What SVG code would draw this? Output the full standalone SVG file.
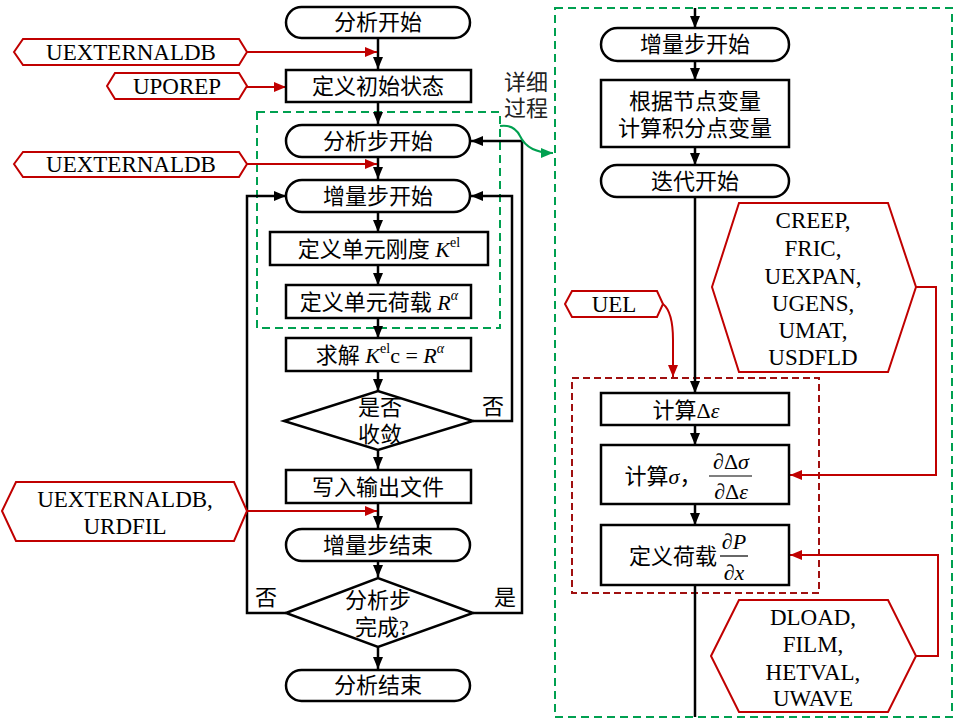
<svg xmlns="http://www.w3.org/2000/svg" width="955" height="725" viewBox="0 0 955 725">
<defs>
<marker id="ab" viewBox="0 0 12 10" refX="12" refY="5" markerWidth="12" markerHeight="10" markerUnits="userSpaceOnUse" orient="auto"><path d="M0,0 L12,5 L0,10 Z" fill="#000"/></marker>
<marker id="ar" viewBox="0 0 12 10" refX="12" refY="5" markerWidth="12" markerHeight="10" markerUnits="userSpaceOnUse" orient="auto"><path d="M0,0 L12,5 L0,10 Z" fill="#C00000"/></marker>
<marker id="ag" viewBox="0 0 12 10" refX="12" refY="5" markerWidth="12" markerHeight="10" markerUnits="userSpaceOnUse" orient="auto"><path d="M0,0 L12,5 L0,10 Z" fill="#00A050"/></marker>
</defs>
<style>
text{font-family:"Liberation Serif","Noto Sans CJK SC",serif;font-size:22px;fill:#000;dominant-baseline:central;text-anchor:middle}
.lat{font-size:23px}
.box{fill:#fff;stroke:#000;stroke-width:2.5}
.hex{fill:#fff;stroke:#C00000;stroke-width:2}
.c{fill:none;stroke:#000;stroke-width:2.5}
.r{fill:none;stroke:#C00000;stroke-width:2}
.gd{fill:none;stroke:#00A050;stroke-width:2;stroke-dasharray:8 5}
.rd{fill:none;stroke:#A01010;stroke-width:2;stroke-dasharray:7 4}
.i{font-style:italic}
.sup{font-size:14px}
</style>
<rect x="0" y="0" width="955" height="725" fill="#fff"/>
<g id="frames">
<rect class="gd" x="257" y="112" width="243" height="216"/>
<rect class="gd" x="555" y="8" width="397" height="709"/>
<rect class="rd" x="572" y="378" width="247" height="215"/>
</g>
<g id="connectors">
<line class="c" x1="378" y1="38" x2="378" y2="69" marker-end="url(#ab)"/>
<line class="c" x1="378" y1="102" x2="378" y2="124" marker-end="url(#ab)"/>
<line class="c" x1="378" y1="157" x2="378" y2="179" marker-end="url(#ab)"/>
<line class="c" x1="378" y1="212" x2="378" y2="232" marker-end="url(#ab)"/>
<line class="c" x1="378" y1="265" x2="378" y2="285" marker-end="url(#ab)"/>
<line class="c" x1="378" y1="318" x2="378" y2="338" marker-end="url(#ab)"/>
<line class="c" x1="378" y1="371" x2="378" y2="391" marker-end="url(#ab)"/>
<line class="c" x1="378" y1="450" x2="378" y2="469" marker-end="url(#ab)"/>
<line class="c" x1="378" y1="503" x2="378" y2="528" marker-end="url(#ab)"/>
<line class="c" x1="378" y1="561" x2="378" y2="577" marker-end="url(#ab)"/>
<line class="c" x1="378" y1="647" x2="378" y2="669" marker-end="url(#ab)"/>
<polyline class="c" points="473,421 512,421 512,196 471,196" marker-end="url(#ab)"/>
<polyline class="c" points="473,613 522,613 522,141 471,141" marker-end="url(#ab)"/>
<polyline class="c" points="286,613 247,613 247,196 286,196" marker-end="url(#ab)"/>
<line class="r" x1="247" y1="52" x2="377" y2="52" marker-end="url(#ar)"/>
<line class="r" x1="247" y1="87" x2="286" y2="87" marker-end="url(#ar)"/>
<line class="r" x1="247" y1="164" x2="377" y2="164" marker-end="url(#ar)"/>
<line class="r" x1="247" y1="511" x2="377" y2="511" marker-end="url(#ar)"/>
<path d="M500,126 Q514,124 520,136 Q528,153 553,153" fill="none" stroke="#00A050" stroke-width="2" marker-end="url(#ag)"/>
<line class="c" x1="695" y1="8" x2="695" y2="28" marker-end="url(#ab)"/>
<line class="c" x1="695" y1="61" x2="695" y2="80" marker-end="url(#ab)"/>
<line class="c" x1="695" y1="147" x2="695" y2="165" marker-end="url(#ab)"/>
<line class="c" x1="695" y1="197" x2="695" y2="393" marker-end="url(#ab)"/>
<line class="c" x1="695" y1="425" x2="695" y2="445" marker-end="url(#ab)"/>
<line class="c" x1="695" y1="504" x2="695" y2="525" marker-end="url(#ab)"/>
<line class="c" x1="695" y1="585" x2="695" y2="717"/>
<polyline class="r" points="916,287 936,287 936,475 790,475" marker-end="url(#ar)"/>
<polyline class="r" points="916,656 938,656 938,555 790,555" marker-end="url(#ar)"/>
<path class="r" d="M663,304 Q673,312 673,340 L673,377" marker-end="url(#ar)"/>
</g>
<g id="n_start"><rect class="box" x="286" y="7" width="184" height="31" rx="15.5"/><text x="378" y="22.5">分析开始</text></g>
<g id="n_uext1"><polygon class="hex" points="14,52 23,39 239,39 247,52 239,65 23,65"/><text class="lat" x="131" y="52">UEXTERNALDB</text></g>
<g id="n_init"><rect class="box" x="286" y="70" width="185" height="32"/><text x="378" y="86">定义初始状态</text></g>
<g id="n_uporep"><polygon class="hex" points="107,86 115,73 239,73 247,86 239,99 115,99"/><text class="lat" x="177" y="86">UPOREP</text></g>
<g id="n_detail"><text x="526" y="82" style="fill:#222">详细</text><text x="526" y="108" style="fill:#222">过程</text></g>
<g id="n_stepstart"><rect class="box" x="286" y="125" width="184" height="32" rx="16"/><text x="378" y="141">分析步开始</text></g>
<g id="n_uext2"><polygon class="hex" points="14,164 23,152 239,152 247,164 239,177 23,177"/><text class="lat" x="131" y="164">UEXTERNALDB</text></g>
<g id="n_incstart"><rect class="box" x="286" y="180" width="184" height="32" rx="16"/><text x="378" y="196">增量步开始</text></g>
<g id="n_kel"><rect class="box" x="270" y="232" width="218" height="33"/><text x="379" y="249">定义单元刚度 <tspan class="i">K</tspan><tspan class="sup" dy="-7">el</tspan></text></g>
<g id="n_ra"><rect class="box" x="286" y="285" width="185" height="33"/><text x="379" y="302">定义单元荷载 <tspan class="i">R</tspan><tspan class="sup i" dy="-7">α</tspan></text></g>
<g id="n_solve"><rect class="box" x="286" y="338" width="185" height="33"/><text x="380" y="355">求解 <tspan class="i">K</tspan><tspan class="sup" dy="-7">el</tspan><tspan dy="7">c =  </tspan><tspan class="i">R</tspan><tspan class="sup i" dy="-7">α</tspan></text></g>
<g id="n_conv"><polygon class="box" points="284,421 378,391 473,421 378,450"/><text x="380" y="407">是否</text><text x="380" y="434">收敛</text><text x="493" y="406">否</text></g>
<g id="n_write"><rect class="box" x="286" y="470" width="185" height="33"/><text x="378" y="487">写入输出文件</text></g>
<g id="n_urdfil"><polygon class="hex" points="2,511 16,482 234,482 247,511 234,541 16,541"/><text class="lat" x="125" y="499">UEXTERNALDB,</text><text class="lat" x="125" y="526">URDFIL</text></g>
<g id="n_incend"><rect class="box" x="286" y="529" width="184" height="32" rx="16"/><text x="378" y="545">增量步结束</text></g>
<g id="n_stepdone"><polygon class="box" points="286,613 378,578 473,613 378,647"/><text x="378" y="600">分析步</text><text x="382" y="627">完成?</text><text x="266" y="597">否</text><text x="505" y="597">是</text></g>
<g id="n_end"><rect class="box" x="286" y="670" width="184" height="31" rx="15.5"/><text x="378" y="685.5">分析结束</text></g>
<g id="r_incstart"><rect class="box" x="601" y="28" width="188" height="33" rx="16.5"/><text x="695" y="44.5">增量步开始</text></g>
<g id="r_var"><rect class="box" x="601" y="80" width="188" height="67"/><text x="695" y="101">根据节点变量</text><text x="695" y="128">计算积分点变量</text></g>
<g id="r_iter"><rect class="box" x="601" y="165" width="188" height="32" rx="16"/><text x="695" y="181">迭代开始</text></g>
<g id="r_creep"><polygon class="hex" points="712,287 739,203 888,203 916,287 888,372 739,372"/><text class="lat" x="813" y="220">CREEP,</text><text class="lat" x="813" y="248">FRIC,</text><text class="lat" x="813" y="276">UEXPAN,</text><text class="lat" x="813" y="303">UGENS,</text><text class="lat" x="813" y="330">UMAT,</text><text class="lat" x="813" y="357">USDFLD</text></g>
<g id="r_uel"><polygon class="hex" points="565,304 572,291 657,291 663,304 657,317 572,317"/><text class="lat" x="614" y="304">UEL</text></g>
<g id="r_deps"><rect class="box" x="601" y="393" width="188" height="32"/><text x="686" y="410">计算<tspan>Δ</tspan><tspan class="i">ε</tspan></text></g>
<g id="r_sigma"><rect class="box" x="601" y="445" width="188" height="59"/><text x="663" y="476">计算<tspan class="i">σ</tspan>，</text><text x="731" y="461">∂Δ<tspan class="i">σ</tspan></text><line x1="709" y1="476" x2="752" y2="476" stroke="#000" stroke-width="1.2"/><text x="731" y="491">∂Δ<tspan class="i">ε</tspan></text></g>
<g id="r_load"><rect class="box" x="601" y="525" width="188" height="60"/><text x="673" y="556">定义荷载</text><text x="734" y="541">∂<tspan class="i">P</tspan></text><line x1="720" y1="556" x2="748" y2="556" stroke="#000" stroke-width="1.2"/><text x="734" y="572">∂<tspan class="i">x</tspan></text></g>
<g id="r_dload"><polygon class="hex" points="711,656 739,600 888,600 916,656 888,712 739,712"/><text class="lat" x="813" y="617">DLOAD,</text><text class="lat" x="813" y="644">FILM,</text><text class="lat" x="813" y="672">HETVAL,</text><text class="lat" x="813" y="698">UWAVE</text></g>
</svg>
